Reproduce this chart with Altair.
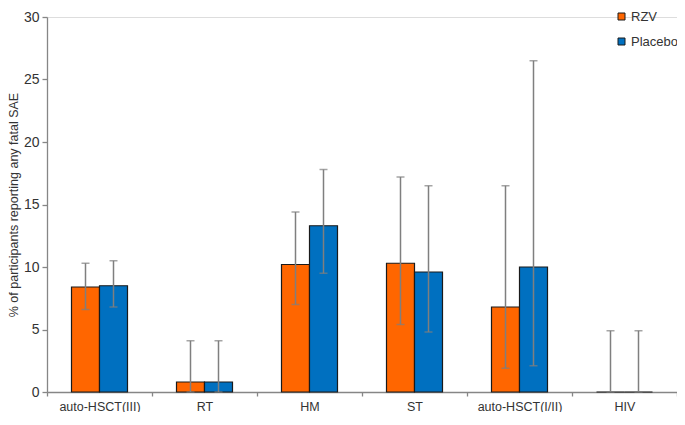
import altair as alt
import pandas as pd

categories = ["auto-HSCT(III)", "RT", "HM", "ST", "auto-HSCT(I/II)", "HIV"]
groups = ["RZV", "Placebo"]
rzv = [8.4, 0.8, 10.2, 10.3, 6.8, 0.0]
rzv_lo = [6.6, 0.0, 7.0, 5.4, 1.9, 0.0]
rzv_hi = [10.3, 4.1, 14.4, 17.2, 16.5, 4.9]
placebo = [8.5, 0.8, 13.3, 9.6, 10.0, 0.0]
placebo_lo = [6.8, 0.0, 9.5, 4.8, 2.1, 0.0]
placebo_hi = [10.5, 4.1, 17.8, 16.5, 26.5, 4.9]
colors = ["#FF6600", "#0070C0"]

rows = []
for i, c in enumerate(categories):
    rows.append({"cat": c, "grp": "RZV", "v": rzv[i], "lo": rzv_lo[i], "hi": rzv_hi[i]})
    rows.append({"cat": c, "grp": "Placebo", "v": placebo[i], "lo": placebo_lo[i], "hi": placebo_hi[i]})
df = pd.DataFrame(rows)

FONT = "Liberation Sans"
TXT = "#333333"
AX = "#868686"

x = alt.X("cat:N", sort=categories, title=None,
          scale=alt.Scale(paddingInner=0, paddingOuter=0),
          axis=alt.Axis(labelAngle=0, labelFontSize=12.5, labelColor=TXT, labelFont=FONT,
                        domainColor=AX, tickColor=AX, tickBand="extent",
                        tickSize=4, labelPadding=4, domainWidth=1.3, tickWidth=1.3))
xo = alt.XOffset("grp:N", sort=groups,
                 scale=alt.Scale(paddingInner=0, paddingOuter=0.875))
y = alt.Y("v:Q", title="% of participants reporting any fatal SAE",
          scale=alt.Scale(domain=[0, 30], nice=False),
          axis=alt.Axis(values=[0, 5, 10, 15, 20, 25, 30], grid=False,
                        labelFontSize=14, labelColor=TXT, labelFont=FONT,
                        titleFontSize=12.5, titleFont=FONT, titleColor=TXT,
                        titleFontWeight="normal", titlePadding=3,
                        domainColor=AX, tickColor=AX, tickSize=5,
                        domainWidth=1.3, tickWidth=1.3, labelPadding=3))

base = alt.Chart(df)

bars = base.mark_bar(stroke="#1a1a1a", strokeWidth=1.2).encode(
    x=x, xOffset=xo, y=y,
    color=alt.Color("grp:N", sort=groups,
                    scale=alt.Scale(domain=groups, range=colors),
                    legend=alt.Legend(title=None, orient="none", legendX=568, legendY=-7,
                                      symbolType="square", symbolSize=49,
                                      symbolStrokeColor="#1a1a1a", symbolStrokeWidth=1,
                                      labelFontSize=13, labelFont=FONT, labelColor=TXT,
                                      rowPadding=11, labelOffset=3)),
)

err = base.mark_rule(color="#7f7f7f", strokeWidth=1.5).encode(
    x=alt.X("cat:N", sort=categories), xOffset=xo,
    y=alt.Y("lo:Q"), y2="hi:Q",
)
cap_hi = base.mark_tick(color="#7f7f7f", thickness=1.5, size=8, orient="horizontal").encode(
    x=alt.X("cat:N", sort=categories), xOffset=xo, y=alt.Y("hi:Q"),
)
cap_lo = base.mark_tick(color="#7f7f7f", thickness=1.5, size=8, orient="horizontal").encode(
    x=alt.X("cat:N", sort=categories), xOffset=xo, y=alt.Y("lo:Q"),
)

chart = alt.layer(bars, err, cap_hi, cap_lo).properties(
    width=630, height=375,
    autosize=alt.AutoSizeParams(type="none"),
    padding={"left": 39, "top": 9, "right": 0, "bottom": 20},
).configure_view(stroke=None).configure(background="white")

chart.save("out.html", embed_options={"renderer": "svg", "actions": False})
